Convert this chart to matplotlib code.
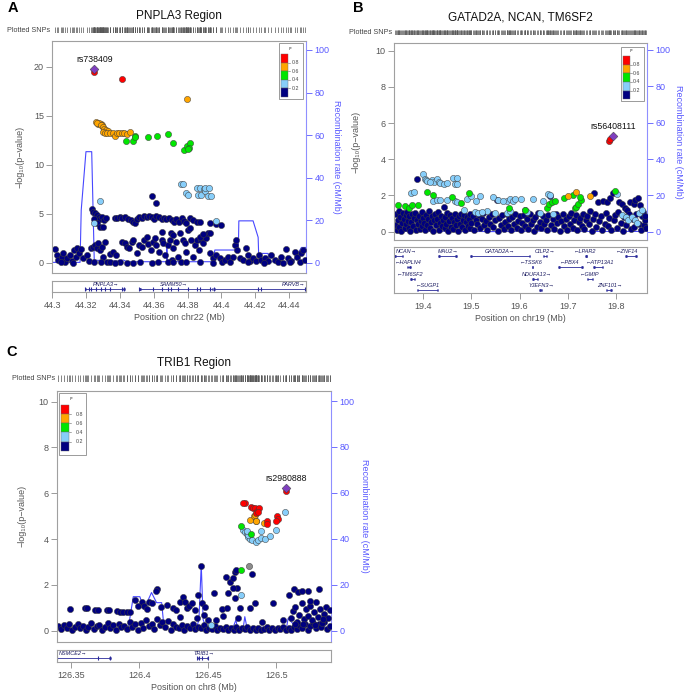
import numpy as np
import matplotlib.pyplot as plt
from matplotlib.patches import Rectangle
from matplotlib.lines import Line2D

plt.rcParams['font.family'] = ['Liberation Sans', 'DejaVu Sans']

W, H = 685, 696

NAVY = '#000080'
LBLUE = '#87CEFA'
GREEN = '#00E600'
ORANGE = '#FFA500'
RED = '#FF0000'
PURPLE = '#7F3FBF'
GRAY = '#8C8C8C'
LD_COLORS = [RED, ORANGE, GREEN, LBLUE, NAVY]
LD_LABELS = ['0.8', '0.6', '0.4', '0.2']

# ---------------- panel A : PNPLA3 (chr22) ----------------
a_navy = [
    (44.3016, 1.39), (44.3026, 0.78), (44.3035, 0.27), (44.3055, 0.61), (44.3065, 0.95),
    (44.3075, 0.10), (44.3085, 0.44), (44.3104, 0.78), (44.3114, 0.20), (44.3128, 1.29),
    (44.3140, 0.61), (44.3148, 1.46), (44.3160, 0.95), (44.3167, 1.39), (44.3183, 0.44),
    (44.3207, 0.78), (44.3219, 0.17), (44.3226, 1.46), (44.3238, 1.56), (44.3252, 1.80),
    (44.3262, 1.46), (44.3272, 1.97), (44.3282, 1.29), (44.3291, 1.63), (44.3301, 0.61),
    (44.3311, 2.14), (44.3321, 0.10), (44.3340, 0.88), (44.3360, 1.12), (44.3376, 0.78),
    (44.3400, 0.10), (44.3415, 2.14), (44.3429, 1.97), (44.3439, 1.63), (44.3455, 1.46),
    (44.3469, 2.14), (44.3478, 2.31), (44.3498, 0.95), (44.3514, 1.80), (44.3528, 1.56),
    (44.3541, 2.31), (44.3557, 2.65), (44.3567, 1.90), (44.3581, 1.29), (44.3597, 2.14),
    (44.3606, 2.48), (44.3616, 1.80), (44.3632, 1.12), (44.3646, 2.31), (44.3656, 1.97),
    (44.3665, 0.78), (44.3685, 1.80), (44.3695, 2.31), (44.3705, 0.27), (44.3715, 1.46),
    (44.3730, 2.14), (44.3744, 0.61), (44.3758, 0.05), (44.3770, 2.31), (44.3784, 1.97),
    (44.3793, 1.12), (44.3803, 3.33), (44.3813, 3.50), (44.3823, 2.31), (44.3833, 0.61),
    (44.3843, 1.80), (44.3853, 2.31), (44.3868, 1.29), (44.3882, 2.31), (44.3892, 1.97),
    (44.3902, 2.82), (44.3911, 2.48), (44.3921, 3.00), (44.3931, 3.00), (44.3935, 0.95),
    (44.3951, 0.44), (44.3970, 0.78), (44.3990, 0.44), (44.4006, 0.10), (44.4020, 0.27),
    (44.4040, 0.61), (44.4053, 0.10), (44.4069, 0.61), (44.4079, 1.80), (44.4089, 2.31),
    (44.4093, 1.29), (44.4108, 0.44), (44.4128, 0.27), (44.4144, 1.46), (44.4158, 0.78),
    (44.4167, 0.20), (44.4187, 0.44), (44.4207, 0.17), (44.4223, 0.78), (44.4236, 0.27),
    (44.4256, 0.44), (44.4276, 0.17), (44.4296, 0.78), (44.4315, 0.27), (44.4335, 0.10),
    (44.4355, 0.61), (44.4380, 1.36), (44.4394, 0.44), (44.4414, 0.17), (44.4433, 1.12),
    (44.4449, 0.61), (44.4463, 0.10), (44.4473, 0.95), (44.4483, 1.29), (44.4492, 0.27),
    (44.3340, 0.05), (44.3370, 0.00), (44.3439, 0.00), (44.3478, 0.00), (44.3518, 0.03),
    (44.3587, 0.00), (44.3626, 0.10), (44.3685, 0.03), (44.3715, 0.07), (44.3793, 0.03),
    (44.3872, 0.03), (44.3951, 0.00), (44.4155, 0.03), (44.4250, 0.00), (44.4366, 0.00),
    (44.4405, 0.07), (44.3050, 0.05), (44.3120, 0.00), (44.3245, 0.10), (44.3290, 0.05),
    (44.3646, 3.16), (44.3699, 3.06), (44.3715, 2.82), (44.3754, 3.06), (44.3872, 2.59),
    (44.3892, 2.93), (44.3232, 5.48), (44.3238, 5.20), (44.3252, 5.10), (44.3262, 4.86),
    (44.3274, 4.63), (44.3282, 4.42), (44.3291, 4.63), (44.3305, 4.35), (44.3317, 4.52),
    (44.3248, 4.42), (44.3262, 4.01), (44.3282, 3.67), (44.3297, 3.67), (44.3370, 4.59),
    (44.3384, 4.52), (44.3400, 4.63), (44.3415, 4.52), (44.3429, 4.63), (44.3449, 4.42),
    (44.3463, 4.35), (44.3478, 4.18), (44.3488, 4.01), (44.3498, 4.42), (44.3514, 4.63),
    (44.3528, 4.52), (44.3541, 4.76), (44.3557, 4.63), (44.3573, 4.76), (44.3587, 4.63),
    (44.3601, 4.42), (44.3616, 4.76), (44.3632, 4.63), (44.3646, 4.42), (44.3660, 4.52),
    (44.3675, 4.42), (44.3691, 4.52), (44.3705, 4.35), (44.3719, 4.18), (44.3734, 4.42),
    (44.3750, 4.18), (44.3764, 4.52), (44.3778, 4.29), (44.3793, 4.08), (44.3817, 4.52),
    (44.3833, 4.35), (44.3853, 4.18), (44.3872, 4.18), (44.3931, 4.08), (44.3970, 3.91),
    (44.4000, 3.84), (44.3589, 6.80), (44.3616, 6.05),
]
a_lblue = [
    (44.3280, 6.30), (44.3248, 4.00), (44.3762, 8.00), (44.3774, 8.00), (44.3793, 7.10),
    (44.3800, 6.90), (44.3856, 7.65), (44.3860, 6.95), (44.3880, 6.95), (44.3875, 7.60),
    (44.3897, 7.50), (44.3900, 7.30), (44.3905, 7.65), (44.3927, 7.65), (44.3920, 6.80),
    (44.3940, 6.75), (44.3967, 4.20),
]
a_green = [
    (44.3435, 12.45), (44.3475, 12.40), (44.3490, 12.96), (44.3487, 12.80), (44.3565, 12.86),
    (44.3618, 12.96), (44.3682, 13.10), (44.3715, 12.20), (44.3780, 11.50), (44.3794, 11.90),
    (44.3813, 12.25), (44.3810, 11.70), (44.3800, 11.60),
]
a_orange = [
    (44.3256, 14.39), (44.3272, 14.15), (44.3288, 14.15), (44.3278, 14.29), (44.3292, 13.99),
    (44.3265, 14.20), (44.3285, 14.00), (44.3300, 13.80), (44.3305, 13.60), (44.3318, 13.50),
    (44.3330, 13.45), (44.3297, 13.37), (44.3311, 13.27), (44.3325, 13.20), (44.3340, 13.27),
    (44.3356, 13.20), (44.3370, 12.93), (44.3380, 13.20), (44.3396, 13.27), (44.3410, 13.20),
    (44.3423, 13.27), (44.3439, 13.13), (44.3459, 13.37), (44.3796, 16.70),
]
a_red = [(44.3248, 19.45), (44.3410, 18.70)]
a_lead = (44.3248, 19.75)
a_lead_name = 'rs738409'
a_rec_x = [44.300, 44.3164, 44.3171, 44.3199, 44.3233, 44.3248, 44.340, 44.342, 44.344,
           44.3676, 44.3677, 44.3680, 44.3951, 44.3961, 44.4100, 44.4103, 44.4187, 44.4217,
           44.4220, 44.4276, 44.4282, 44.4424, 44.4473, 44.4500]
a_rec_r = [0.2, 0.2, 24.8, 52.2, 52.2, 1.2, 0.8, 1.3, 0.5,
           0.5, 7.5, 0.5, 0.5, 6.0, 6.0, 19.7, 19.7, 12.0,
           4.4, 4.4, 0.5, 0.5, 7.2, 7.2]
a_gene_names = ['PNPLA3', 'SAMM50', 'PARVB']
a_gene_start = [44.3193, 44.3514, 44.3955]
a_gene_end = [44.3429, 44.3951, 44.4550]
a_gene_label_x = [44.3318, 44.3719, 44.4427]
a_gene_strand = ['+', '+', '+']
a_gene_row = [0, 0, 0]
a_exons = [44.3195, 44.3215, 44.3230, 44.3260, 44.3285, 44.3310, 44.3340, 44.3415, 44.3425,
           44.3515, 44.3595, 44.3650, 44.3685, 44.3700, 44.3745, 44.3800, 44.3855, 44.3875,
           44.3930, 44.3955, 44.4215, 44.4235, 44.4495]

# ---------------- panel B : GATAD2A, NCAN, TM6SF2 (chr19) ----------------
b_navy = [
    (19.342, 0.35), (19.344, 0.95), (19.345, 0.12), (19.347, 0.62), (19.349, 1.15), (19.350, 0.28),
    (19.352, 0.80), (19.354, 0.05), (19.356, 0.48), (19.357, 1.05), (19.359, 0.70), (19.361, 0.18),
    (19.363, 0.90), (19.364, 0.40), (19.366, 1.10), (19.368, 0.60), (19.370, 0.22), (19.371, 0.85),
    (19.373, 0.02), (19.375, 0.55), (19.377, 0.95), (19.378, 0.32), (19.380, 0.75), (19.382, 1.02),
    (19.384, 0.10), (19.386, 2.91), (19.387, 0.65), (19.389, 0.42), (19.391, 0.88), (19.393, 0.15),
    (19.395, 0.58), (19.397, 1.08), (19.398, 0.30), (19.400, 0.78), (19.402, 0.50), (19.404, 0.08),
    (19.406, 0.92), (19.408, 0.36), (19.410, 0.70), (19.412, 1.12), (19.414, 0.20), (19.416, 0.55),
    (19.418, 0.85), (19.420, 0.03), (19.422, 0.62), (19.424, 0.95), (19.426, 0.38), (19.428, 0.72),
    (19.430, 1.10), (19.432, 0.12), (19.434, 0.48), (19.436, 0.88), (19.438, 0.30), (19.440, 0.66),
    (19.442, 1.35), (19.444, 0.22), (19.446, 0.80), (19.448, 0.45), (19.450, 1.05), (19.452, 0.05),
    (19.454, 0.60), (19.456, 0.92), (19.458, 0.28), (19.460, 0.75), (19.462, 0.15), (19.464, 0.52),
    (19.466, 0.98), (19.468, 0.35), (19.470, 0.70), (19.472, 0.06), (19.474, 0.88), (19.476, 0.42),
    (19.478, 1.00), (19.480, 0.25), (19.482, 0.62), (19.484, 0.90), (19.486, 0.10), (19.488, 0.55),
    (19.490, 0.80), (19.492, 0.32), (19.494, 0.68), (19.496, 0.95), (19.498, 0.18), (19.500, 0.50),
    (19.503, 0.85), (19.506, 0.08), (19.509, 0.62), (19.512, 0.40), (19.515, 0.92), (19.518, 0.20),
    (19.521, 0.70), (19.524, 1.02), (19.527, 0.35), (19.530, 0.58), (19.533, 0.12), (19.536, 0.80),
    (19.539, 0.45), (19.542, 0.95), (19.545, 0.28), (19.548, 0.65), (19.5525, 1.75), (19.555, 0.05),
    (19.558, 0.75), (19.561, 0.38), (19.564, 0.90), (19.567, 0.15), (19.570, 0.55), (19.573, 1.00),
    (19.576, 0.30), (19.579, 0.68), (19.582, 0.10), (19.585, 0.82), (19.588, 0.45), (19.591, 0.95),
    (19.594, 0.22), (19.597, 0.60), (19.600, 0.85), (19.603, 0.08), (19.606, 0.50), (19.609, 0.92),
    (19.612, 0.32), (19.615, 0.70), (19.618, 0.15), (19.621, 0.98), (19.624, 0.40), (19.627, 0.62),
    (19.630, 0.05), (19.633, 0.80), (19.636, 0.28), (19.639, 1.05), (19.642, 0.52), (19.645, 0.18),
    (19.648, 0.85), (19.651, 0.42), (19.654, 0.65), (19.657, 0.10), (19.660, 0.90), (19.663, 1.95),
    (19.666, 0.35), (19.669, 0.72), (19.672, 0.15), (19.675, 1.00), (19.678, 0.48), (19.681, 0.82),
    (19.684, 0.05), (19.687, 0.60), (19.690, 0.95), (19.693, 0.30), (19.696, 0.70), (19.699, 0.12),
    (19.702, 0.88), (19.705, 0.45), (19.708, 1.05), (19.711, 0.22), (19.714, 0.65), (19.717, 0.90),
    (19.720, 0.08), (19.723, 0.55), (19.726, 0.78), (19.729, 0.32), (19.732, 1.00), (19.735, 0.15),
    (19.738, 0.62), (19.741, 0.85), (19.744, 0.40), (19.747, 1.12), (19.750, 0.05), (19.753, 0.70),
    (19.755, 2.12), (19.757, 0.95), (19.760, 0.28), (19.764, 1.66), (19.766, 0.58), (19.769, 0.85),
    (19.772, 0.12), (19.774, 1.71), (19.777, 0.45), (19.780, 1.02), (19.781, 1.66), (19.784, 0.30),
    (19.787, 0.75), (19.789, 1.84), (19.791, 0.10), (19.794, 2.12), (19.796, 0.62), (19.799, 0.90),
    (19.802, 0.20), (19.805, 1.10), (19.807, 1.66), (19.810, 0.50), (19.812, 1.53), (19.815, 0.05),
    (19.817, 0.82), (19.819, 1.29), (19.822, 0.38), (19.824, 1.20), (19.827, 0.95), (19.830, 1.66),
    (19.832, 0.15), (19.835, 0.72), (19.837, 1.53), (19.839, 0.28), (19.841, 1.75), (19.843, 1.00),
    (19.846, 1.84), (19.848, 0.45), (19.850, 1.47), (19.852, 0.08), (19.854, 0.88), (19.856, 1.10),
    (19.858, 0.35), (19.860, 0.65), (19.861, 0.87), (19.863, 0.20),
]
b_lblue = [
    (19.374, 2.12), (19.381, 2.19), (19.399, 3.17), (19.404, 2.90), (19.405, 2.83), (19.4175, 2.86),
    (19.4222, 2.74), (19.4278, 2.89), (19.432, 2.74), (19.4347, 2.67), (19.443, 2.63), (19.450, 2.67),
    (19.461, 2.95), (19.466, 2.63), (19.4707, 2.95), (19.470, 2.65), (19.407, 2.80), (19.414, 2.75),
    (19.4208, 1.70), (19.428, 1.75), (19.435, 1.75), (19.449, 1.75), (19.466, 1.70), (19.490, 1.80),
    (19.499, 1.95), (19.518, 1.95), (19.544, 1.90), (19.556, 1.75), (19.573, 1.70), (19.580, 1.80),
    (19.587, 1.70), (19.604, 1.80), (19.628, 1.80), (19.659, 2.10), (19.664, 2.00), (19.648, 1.70),
    (19.470, 1.65), (19.510, 1.72), (19.565, 1.72), (19.590, 1.78), (19.4835, 1.20), (19.507, 1.10),
    (19.514, 1.05), (19.5315, 1.15), (19.549, 1.05), (19.573, 1.05), (19.580, 1.15), (19.611, 1.20),
    (19.615, 1.10), (19.643, 1.05), (19.670, 1.00), (19.521, 1.08), (19.814, 0.92), (19.821, 0.79),
    (19.826, 0.64), (19.833, 0.83), (19.840, 0.64), (19.849, 1.05), (19.854, 1.20), (19.845, 0.50),
    (19.802, 2.10),
]
b_green = [
    (19.348, 1.45), (19.362, 1.42), (19.370, 1.30), (19.376, 1.50), (19.388, 1.48), (19.407, 2.17),
    (19.421, 2.02), (19.460, 1.93), (19.478, 1.60), (19.494, 2.16), (19.579, 1.30), (19.611, 1.20),
    (19.658, 1.30), (19.662, 1.53), (19.667, 1.66), (19.674, 1.72), (19.693, 1.84), (19.711, 2.02),
    (19.715, 1.30), (19.718, 1.38), (19.722, 1.53), (19.727, 1.75), (19.726, 1.93), (19.799, 2.25),
]
b_orange = [(19.701, 1.97), (19.717, 2.17), (19.7466, 1.99)]
b_red = [(19.786, 5.00), (19.788, 5.10)]
b_lead = (19.7937, 5.30)
b_lead_name = 'rs56408111'
b_rec_x = [19.339, 19.45, 19.55, 19.65, 19.75, 19.865]
b_rec_r = [0.3, 0.4, 0.2, 0.5, 0.3, 0.3]
b_gene_names = ['NCAN', 'MAU2', 'GATAD2A', 'CILP2', 'LPAR2', 'ZNF14',
                'HAPLN4', 'TSSK6', 'PBX4', 'ATP13A1',
                'TM6SF2', 'NDUFA13', 'GMIP',
                'SUGP1', 'YJEFN3', 'ZNF101']
b_gene_start = [19.3400, 19.4312, 19.4970, 19.6480, 19.7361, 19.8193,
                19.3653, 19.6252, 19.6807, 19.7534,
                19.3723, 19.6266, 19.7396,
                19.3861, 19.6405, 19.7791]
b_gene_end = [19.3584, 19.4693, 19.6218, 19.6578, 19.7410, 19.8435,
              19.3737, 19.6273, 19.7313, 19.7742,
              19.3827, 19.6391, 19.7534,
              19.4312, 19.6474, 19.7916]
b_gene_label_x = [19.3647, 19.4527, 19.5594, 19.6530, 19.7361, 19.8227,
                  19.3688, 19.6252, 19.7035, 19.7673,
                  19.3723, 19.6356, 19.7465,
                  19.4104, 19.6460, 19.7867]
b_gene_strand = ['+', '+', '+', '+', '-', '-',
                 '-', '-', '-', '-',
                 '-', '+', '-',
                 '-', '+', '+']
b_gene_row = [0, 0, 0, 0, 0, 0, 1, 1, 1, 1, 2, 2, 2, 3, 3, 3]
b_exons = []

# ---------------- panel C : TRIB1 (chr8) ----------------
c_navy = [
    (126.341, 0.20), (126.343, 0.08), (126.345, 0.25), (126.347, 0.12), (126.349, 0.30), (126.351, 0.05),
    (126.353, 0.18), (126.355, 0.28), (126.357, 0.10), (126.359, 0.22), (126.361, 0.03), (126.363, 0.15),
    (126.365, 0.32), (126.367, 0.08), (126.369, 0.20), (126.371, 0.26), (126.373, 0.05), (126.375, 0.18),
    (126.377, 0.35), (126.379, 0.12), (126.381, 0.24), (126.383, 0.02), (126.385, 0.30), (126.387, 0.15),
    (126.389, 0.22), (126.391, 0.08), (126.393, 0.40), (126.395, 0.18), (126.397, 0.28), (126.399, 0.05),
    (126.401, 0.35), (126.403, 0.12), (126.405, 0.45), (126.407, 0.22), (126.409, 0.30), (126.411, 0.08),
    (126.413, 0.50), (126.415, 0.25), (126.417, 0.38), (126.419, 0.15), (126.421, 0.42), (126.423, 0.05),
    (126.425, 0.30), (126.427, 0.18), (126.429, 0.10), (126.431, 0.25), (126.433, 0.03), (126.435, 0.20),
    (126.437, 0.12), (126.439, 0.28), (126.441, 0.06), (126.443, 0.18), (126.445, 0.10), (126.447, 0.25),
    (126.449, 0.02), (126.451, 0.14), (126.453, 0.08), (126.455, 0.20), (126.457, 0.04), (126.459, 0.12),
    (126.461, 0.06), (126.463, 0.18), (126.465, 0.02), (126.467, 0.10), (126.469, 0.05), (126.471, 0.15),
    (126.473, 0.03), (126.475, 0.12), (126.477, 0.06), (126.479, 0.18), (126.481, 0.02), (126.483, 0.10),
    (126.485, 0.05), (126.487, 0.14), (126.489, 0.03), (126.491, 0.08), (126.493, 0.16), (126.495, 0.04),
    (126.497, 0.10), (126.499, 0.02), (126.501, 0.12), (126.503, 0.06), (126.505, 0.15), (126.507, 0.03),
    (126.509, 0.10), (126.511, 0.05), (126.513, 0.18), (126.515, 0.08), (126.517, 0.25), (126.519, 0.12),
    (126.521, 0.30), (126.523, 0.05), (126.525, 0.20), (126.527, 0.35), (126.529, 0.10), (126.531, 0.28),
    (126.533, 0.15), (126.535, 0.40), (126.537, 0.08), (126.539, 0.22),
    (126.3495, 0.93), (126.3604, 0.97), (126.3621, 1.00), (126.3677, 0.90), (126.3701, 0.90),
    (126.3763, 0.90), (126.3782, 0.90), (126.3836, 0.87), (126.3860, 0.80), (126.3884, 0.80),
    (126.3908, 0.80), (126.3933, 0.80), (126.3969, 1.34), (126.3993, 1.08), (126.4018, 1.27),
    (126.4035, 1.08), (126.4054, 0.93), (126.4069, 1.27), (126.4090, 1.19), (126.4127, 1.80),
    (126.4122, 1.73), (126.4161, 1.02), (126.4200, 1.12), (126.4244, 0.97), (126.4268, 0.90),
    (126.4297, 1.27), (126.4317, 1.46), (126.4334, 1.27), (126.4346, 0.97), (126.4365, 1.08),
    (126.4383, 1.19), (126.4407, 0.90), (126.4431, 1.57), (126.4453, 2.84), (126.4455, 1.22),
    (126.4480, 1.02), (126.4504, 0.48), (126.4545, 1.63), (126.4601, 0.93), (126.4638, 0.97),
    (126.4650, 1.63), (126.4633, 2.36), (126.4662, 2.14), (126.4682, 2.29), (126.4698, 2.58),
    (126.4710, 2.65), (126.4715, 1.85), (126.4686, 1.85), (126.4698, 1.41), (126.4735, 0.97),
    (126.4808, 0.97), (126.4825, 2.48), (126.4844, 1.22), (126.4978, 1.22), (126.5094, 1.57),
    (126.5129, 1.80), (126.5160, 1.70), (126.5185, 1.75), (126.5233, 1.75), (126.5311, 1.80),
    (126.4300, 0.60), (126.4420, 0.55), (126.4470, 0.70), (126.4560, 0.45), (126.4610, 0.65),
    (126.4720, 0.55), (126.4900, 0.40), (126.5050, 0.45),
    (126.5105, 0.55), (126.5120, 0.85), (126.5140, 1.05), (126.5155, 0.40), (126.5170, 0.70),
    (126.5185, 1.20), (126.5200, 0.50), (126.5215, 0.95), (126.5230, 0.65), (126.5245, 1.10),
    (126.5260, 0.45), (126.5275, 0.80), (126.5290, 1.25), (126.5305, 0.60), (126.5320, 0.95),
    (126.5335, 0.35), (126.5350, 0.75), (126.5365, 1.05), (126.5380, 0.55), (126.5395, 0.90),
    (126.5250, 1.30), (126.5285, 0.25), (126.5345, 0.50), (126.5195, 0.30), (126.5135, 0.30),
]
c_lblue = [
    (126.4759, 4.40), (126.4771, 4.30), (126.4784, 4.22), (126.4796, 4.10), (126.4808, 4.02),
    (126.4820, 3.96), (126.4852, 3.86), (126.4868, 3.96), (126.4888, 4.03), (126.4917, 3.99),
    (126.4954, 4.13), (126.4997, 4.40), (126.5065, 5.20), (126.4888, 4.35), (126.4796, 4.18),
    (126.4784, 4.35), (126.4742, 1.55), (126.4523, 0.25),
]
c_green = [(126.4740, 4.57), (126.4815, 4.22), (126.4742, 2.66)]
c_gray = [(126.4803, 2.81)]
c_orange = [(126.4808, 4.83), (126.4835, 5.00), (126.4852, 4.80), (126.4910, 4.69),
            (126.4856, 4.77), (126.4845, 5.05)]
c_red = [
    (126.4773, 5.56), (126.4760, 5.56), (126.4813, 5.42), (126.4828, 5.34), (126.4845, 5.34),
    (126.4861, 5.23), (126.4876, 5.34), (126.4852, 5.14), (126.4870, 5.20), (126.4934, 4.80),
    (126.4934, 4.66), (126.5003, 5.00), (126.5010, 4.87), (126.5000, 4.80), (126.5070, 6.10),
]
c_lead = (126.5070, 6.24)
c_lead_name = 'rs2980888'
c_rec_x = [126.340, 126.392, 126.3957, 126.4005, 126.4035, 126.4090, 126.4127, 126.4164,
           126.4176, 126.4297, 126.4419, 126.4436, 126.4453, 126.4467, 126.4490, 126.4686,
           126.4706, 126.4716, 126.4760, 126.4771, 126.4786, 126.5076, 126.5087, 126.5124,
           126.5172, 126.5245, 126.5280, 126.5390]
c_rec_r = [1.0, 1.0, 14.8, 14.8, 9.3, 16.6, 12.2, 12.2,
           4.7, 1.7, 1.5, 4.7, 28.7, 4.7, 1.5, 1.5,
           4.7, 1.5, 1.5, 6.1, 1.5, 1.5, 5.4, 2.9,
           2.0, 6.1, 3.9, 0.6]
c_gene_names = ['NSMCE2', 'TRIB1']
c_gene_start = [126.3300, 126.4419]
c_gene_end = [126.3794, 126.4504]
c_gene_label_x = [126.3519, 126.4472]
c_gene_strand = ['+', '+']
c_gene_row = [0, 0]
c_exons = [126.3398, 126.3700, 126.3790, 126.4425, 126.4440, 126.4460, 126.4500]

fig = plt.figure(figsize=(W / 100, H / 100), dpi=100)


def fbox(x0, y0, x1, y1):
    return [x0 / W, 1 - y1 / H, (x1 - x0) / W, (y1 - y0) / H]


def ftxt(x, y, s, **kw):
    return fig.text(x / W, 1 - y / H, s, **kw)


def frect(x0, y0, x1, y1, **kw):
    fig.add_artist(Rectangle((x0 / W, 1 - y1 / H), (x1 - x0) / W, (y1 - y0) / H,
                             transform=fig.transFigure, **kw))


def legend(bx, sx, lx, rxy):
    frect(*bx, facecolor='white', edgecolor='#8a8a8a', lw=0.6)
    h = (sx[3] - sx[1]) / len(LD_COLORS)
    for i, c in enumerate(LD_COLORS):
        frect(sx[0], sx[1] + i * h, sx[2], sx[1] + (i + 1) * h, facecolor=c,
              edgecolor='#666666', lw=0.3)
    for i, lab in enumerate(LD_LABELS):
        yy = sx[1] + (i + 1) * h
        fig.add_artist(Line2D([sx[2] / W, (sx[2] + 2) / W], [1 - yy / H, 1 - yy / H],
                              transform=fig.transFigure, color='#666666', lw=0.4))
        ftxt(lx, yy, lab, fontsize=3.8, va='center', ha='left', color='#444444')
    ftxt(rxy[0], rxy[1], 'r²', fontsize=3.8, style='italic', ha='center', va='center',
         color='#444444')


def panel(main, gene, rug, xlim, ylim, rlim, yticks, xticks, xticklabels, chrom,
          layers, lead, lead_name, rec_x, rec_r, genes, exons, nrows, row_pos):
    ax = fig.add_axes(fbox(*main))
    ax2 = ax.twinx()
    ax.set_zorder(ax2.get_zorder() + 1)
    ax.patch.set_visible(False)

    ax2.plot(rec_x, rec_r, color='#4747ff', lw=0.8)
    ax2.set_ylim(rlim)
    ax2.set_yticks([0, 20, 40, 60, 80, 100])
    ax2.tick_params(axis='y', colors='#5a5aff', labelsize=6.5, length=4, width=0.6, pad=2)
    for s in ['left', 'top', 'bottom']:
        ax2.spines[s].set_visible(False)
    ax2.spines['right'].set_color('#8f8fff')
    ax2.spines['right'].set_linewidth(0.8)

    for pts, col in layers:
        xs = [p[0] for p in pts]
        ys = [p[1] for p in pts]
        ax.scatter(xs, ys, s=20, color=col, edgecolors='#3c3c3c', linewidths=0.35)
    ax.scatter([lead[0]], [lead[1]], s=20, color=PURPLE, marker='D',
               edgecolors='#3c3c3c', linewidths=0.35)
    ax.annotate(lead_name, lead, xytext=(0, 3.5), textcoords='offset points',
                ha='center', va='bottom', fontsize=6.3, color='#111111')

    ax.set_xlim(xlim)
    ax.set_ylim(ylim)
    ax.set_yticks(yticks)
    ax.set_xticks([])
    ax.tick_params(axis='y', colors='#8a8a8a', labelcolor='#555555', labelsize=6.5,
                   length=4, width=0.6, pad=2)
    for s in ['left', 'top', 'bottom']:
        ax.spines[s].set_color('#a0a0a0')
        ax.spines[s].set_linewidth(0.8)
    ax.spines['right'].set_visible(False)

    # gene track
    g = fig.add_axes(fbox(*gene))
    g.set_xlim(xlim)
    g.set_ylim(0, 1)
    g.set_yticks([])
    g.set_xticks(xticks)
    g.set_xticklabels(xticklabels)
    g.tick_params(axis='x', colors='#8a8a8a', labelcolor='#555555', labelsize=6.5,
                  length=4, width=0.6, pad=3)
    for s in g.spines.values():
        s.set_color('#a0a0a0')
        s.set_linewidth(0.8)
    g.set_xlabel('Position on ' + chrom + ' (Mb)', fontsize=6.5, color='#555555', labelpad=1.5)
    blk = (xlim[1] - xlim[0]) * 0.006
    names, starts, ends, labx, strands, rows = genes
    for nm, st, en, lx, sd, rw in zip(names, starts, ends, labx, strands, rows):
        ly, ty = row_pos[rw]
        g.plot([st, en], [ly, ly], color='#2a2a9a', lw=0.6, solid_capstyle='butt')
        g.plot([st, min(st + blk, en)], [ly, ly], color='#2a2a9a', lw=2.0, solid_capstyle='butt')
        g.plot([max(en - blk, st), en], [ly, ly], color='#2a2a9a', lw=2.0, solid_capstyle='butt')
        lab = nm + '→' if sd == '+' else '←' + nm
        g.text(lx, ty, lab, fontsize=4.0, style='italic', ha='center', va='center',
               color='#1a1a60', clip_on=True)
    if exons:
        ly = row_pos[0][0]
        g.plot(exons, [ly] * len(exons), ls='none', marker='|', ms=3.2, mew=0.8, color='#2a2a9a')

    # plotted SNPs rug
    r = fig.add_axes(fbox(*rug))
    r.set_xlim(xlim)
    r.set_ylim(0, 1)
    r.axis('off')
    allx = [p[0] for pts, _ in layers for p in pts] + [lead[0]]
    r.vlines(allx, 0, 1, color='#555555', lw=0.5)
    ftxt(rug[0] - 2, (rug[1] + rug[3]) / 2, 'Plotted SNPs', fontsize=5.2,
         ha='right', va='center', color='#444444')
    return ax


# ---- A ----
panel((52.3, 41, 306, 273), (52.3, 280.7, 306, 291.7), (52.3, 27, 306, 33),
      (44.3, 44.45), (-1.05, 22.6), (-4.8, 104.2), [0, 5, 10, 15, 20],
      [44.3, 44.32, 44.34, 44.36, 44.38, 44.4, 44.42, 44.44],
      ['44.3', '44.32', '44.34', '44.36', '44.38', '44.4', '44.42', '44.44'], 'chr22',
      [(a_navy, NAVY), (a_lblue, LBLUE), (a_green, GREEN), (a_orange, ORANGE), (a_red, RED)],
      a_lead, a_lead_name, a_rec_x, a_rec_r,
      (a_gene_names, a_gene_start, a_gene_end, a_gene_label_x, a_gene_strand, a_gene_row),
      a_exons, 1, [(0.27, 0.62)])
legend((279, 43, 303, 99), (281, 54, 288.3, 96.7), 292, (291, 48))
ftxt(179, 16, 'PNPLA3 Region', fontsize=8.5, ha='center', va='center', color='#111111')
ftxt(12.5, 7.5, 'A', fontsize=10.5, fontweight='bold', ha='center', va='center')
ftxt(20, 157, '−log₁₀(p−value)', fontsize=6.5, rotation=90, ha='center', va='center',
     color='#555555')
ftxt(337, 157, 'Recombination rate (cM/Mb)', fontsize=6.5, rotation=270, ha='center',
     va='center', color='#5a5aff')

# ---- B ----
panel((394, 43, 647, 240), (394, 247, 647, 292.7), (394, 29.5, 647, 35),
      (19.339, 19.865), (-0.46, 10.43), (-4.4, 103.6), [0, 2, 4, 6, 8, 10],
      [19.4, 19.5, 19.6, 19.7, 19.8], ['19.4', '19.5', '19.6', '19.7', '19.8'], 'chr19',
      [(b_navy, NAVY), (b_lblue, LBLUE), (b_green, GREEN), (b_orange, ORANGE), (b_red, RED)],
      b_lead, b_lead_name, b_rec_x, b_rec_r,
      (b_gene_names, b_gene_start, b_gene_end, b_gene_label_x, b_gene_strand, b_gene_row),
      b_exons, 4, [(0.81, 0.91), (0.56, 0.65), (0.30, 0.40), (0.06, 0.16)])
legend((621, 47, 644, 101), (623, 56, 630, 99.3), 633, (632, 50.5))
ftxt(520.5, 18, 'GATAD2A, NCAN, TM6SF2', fontsize=8.5, ha='center', va='center', color='#111111')
ftxt(358.5, 7.5, 'B', fontsize=10.5, fontweight='bold', ha='center', va='center')
ftxt(356, 141.5, '−log₁₀(p−value)', fontsize=6.5, rotation=90, ha='center', va='center',
     color='#555555')
ftxt(679, 141.5, 'Recombination rate (cM/Mb)', fontsize=6.5, rotation=270, ha='center',
     va='center', color='#5a5aff')

# ---- C ----
panel((56.7, 390.7, 331, 641.7), (56.7, 650, 331, 661.7), (56.7, 375, 331, 382),
      (126.3398, 126.54), (-0.48, 10.48), (-4.8, 104.5), [0, 2, 4, 6, 8, 10],
      [126.35, 126.4, 126.45, 126.5], ['126.35', '126.4', '126.45', '126.5'], 'chr8',
      [(c_navy, NAVY), (c_gray, GRAY), (c_lblue, LBLUE), (c_green, GREEN),
       (c_orange, ORANGE), (c_red, RED)],
      c_lead, c_lead_name, c_rec_x, c_rec_r,
      (c_gene_names, c_gene_start, c_gene_end, c_gene_label_x, c_gene_strand, c_gene_row),
      c_exons, 1, [(0.29, 0.66)])
legend((59, 392.7, 86, 455), (61, 405, 69, 450.7), 75.5, (72, 398))
ftxt(194, 363, 'TRIB1 Region', fontsize=8.5, ha='center', va='center', color='#111111')
ftxt(12, 352, 'C', fontsize=10.5, fontweight='bold', ha='center', va='center')
ftxt(21.7, 516, '−log₁₀(p−value)', fontsize=6.5, rotation=90, ha='center', va='center',
     color='#555555')
ftxt(365, 516, 'Recombination rate (cM/Mb)', fontsize=6.5, rotation=270, ha='center',
     va='center', color='#5a5aff')

fig.savefig('out.png', dpi=100)
